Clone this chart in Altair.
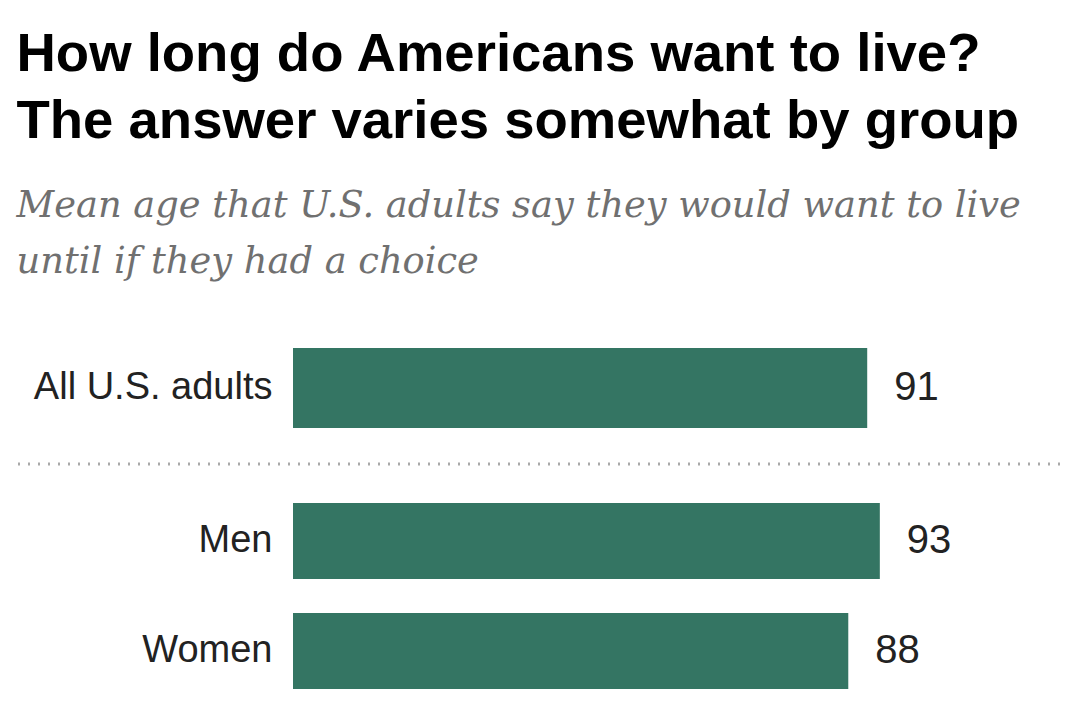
import altair as alt
import pandas as pd

top_groups = ["All U.S. adults"]
top_values = [91]
bottom_groups = ["Men", "Women"]
bottom_values = [93, 88]

title_lines = ["How long do Americans want to live?", "The answer varies somewhat by group"]
subtitle_lines = ["Mean age that U.S. adults say they would want to live", "until if they had a choice"]

BAR = "#347563"
TXT = "#222222"

top_df = pd.DataFrame({"group": top_groups, "value": top_values})
bot_df = pd.DataFrame({"group": bottom_groups, "value": bottom_values})

xscale = alt.Scale(domain=[0, 100])
yaxis = alt.Axis(title=None, ticks=False, domain=False, labelFontSize=38, labelColor=TXT,
                 labelFont="Liberation Sans", labelPadding=21, minExtent=275, maxExtent=275,
                 labelLimit=400)


def panel(df, order, height, size):
    base = alt.Chart(df).encode(
        y=alt.Y("group:N", sort=order, axis=yaxis,
                scale=alt.Scale(paddingInner=0, paddingOuter=0)),
        x=alt.X("value:Q", scale=xscale, axis=None),
    )
    bars = base.mark_bar(color=BAR, size=size)
    labels = base.mark_text(align="left", baseline="middle", dx=27, fontSize=40,
                            font="Liberation Sans", color=TXT).encode(text="value:Q")
    return (bars + labels).properties(width=631, height=height)


top = panel(top_df, top_groups, 110, 80)
sep = alt.Chart(top_df).mark_rule(color="#a9a9a9", strokeWidth=3, strokeDash=[2, 8]).encode(
    x=alt.value(-275), x2=alt.value(772), y=alt.value(131))
top = alt.layer(top, sep)
bottom = panel(bot_df, bottom_groups, 220, 76)

chart = alt.vconcat(top, bottom, spacing=20).properties(
    title=alt.TitleParams(
        text=title_lines,
        subtitle=subtitle_lines,
        anchor="start",
        font="Liberation Sans",
        fontSize=54.5,
        fontWeight="bold",
        lineHeight=67,
        color="#000000",
        subtitleFont="DejaVu Serif",
        subtitleFontStyle="italic",
        subtitleFontSize=36.8,
        subtitleColor="#707070",
        subtitleLineHeight=56,
        subtitlePadding=39,
        offset=51,
    ),
    padding={"left": 8, "top": 18, "right": 0, "bottom": 0},
).configure_view(stroke=None)

chart.save("out.html", embed_options={"renderer": "svg", "actions": False})
